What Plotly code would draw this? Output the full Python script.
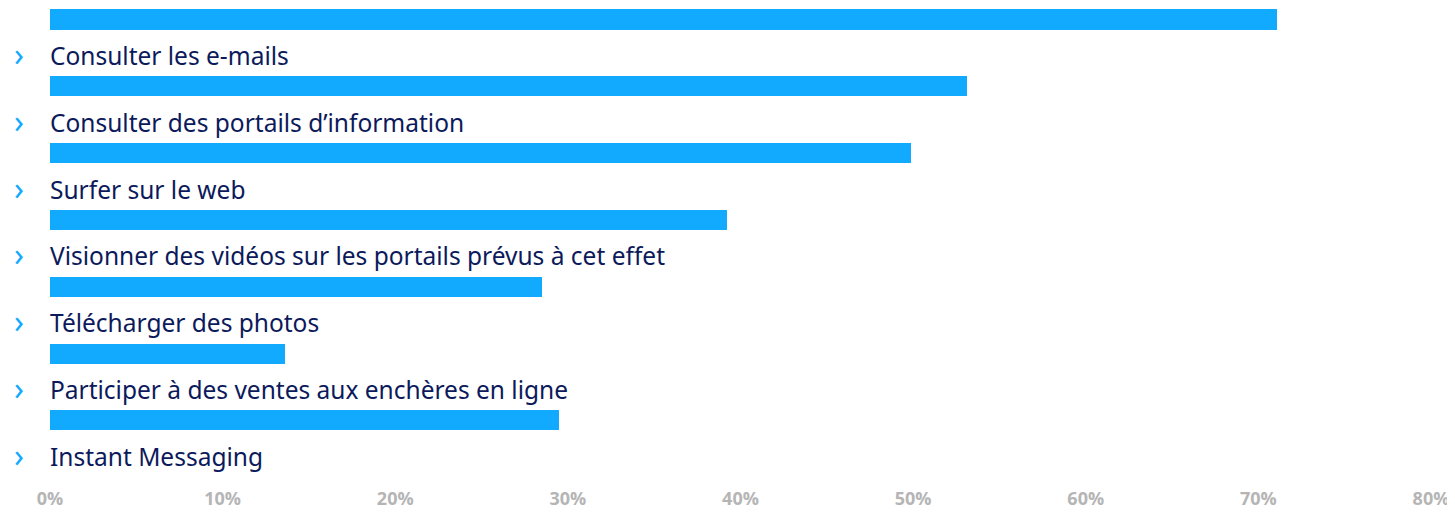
import plotly.graph_objects as go

categories = [
    "Consulter les e-mails",
    "Consulter des portails d’information",
    "Surfer sur le web",
    "Visionner des vidéos sur les portails prévus à cet effet",
    "Télécharger des photos",
    "Participer à des ventes aux enchères en ligne",
    "Instant Messaging",
]
values = [71.1, 53.1, 49.9, 39.2, 28.5, 13.6, 29.5]
tick_vals = [0, 10, 20, 30, 40, 50, 60, 70, 80]
tick_text = [f"{v}%" for v in tick_vals]

BAR_COLOR = "#12aaff"
TEXT_COLOR = "#0c1a5b"
TICK_COLOR = "#b5b5b5"

pos = list(range(len(categories)))

fig = go.Figure(
    go.Bar(
        x=values,
        y=pos,
        orientation="h",
        width=0.3,
        marker=dict(color=BAR_COLOR, line=dict(width=0)),
        hovertemplate="%{customdata}: %{x}%<extra></extra>",
        customdata=categories,
    )
)

annotations = []
for p, c in zip(pos, categories):
    annotations.append(dict(
        x=0, y=p, xref="x", yref="y", text=c, showarrow=False,
        xanchor="left", yanchor="middle", yshift=-36, xshift=-2,
        font=dict(family="Noto Sans", size=24.5, color=TEXT_COLOR),
    ))
    annotations.append(dict(
        x=0, y=p, xref="x", yref="y", text="›", showarrow=False,
        xanchor="center", yanchor="middle", yshift=-34, xshift=-31,
        font=dict(family="Noto Sans", size=32, color=BAR_COLOR),
    ))

# the page body adds an 8px offset, so the figure is sized to the visible area
fig.update_layout(
    width=1447, height=504,
    margin=dict(l=42, r=24, t=0, b=26, autoexpand=False),
    paper_bgcolor="white", plot_bgcolor="white",
    showlegend=False,
    bargap=0,
    annotations=annotations,
    xaxis=dict(
        range=[0, 80], tickvals=tick_vals, ticktext=tick_text,
        showgrid=False, zeroline=False, showline=False, ticks="",
        tickfont=dict(family="Open Sans", size=18, color=TICK_COLOR, weight="bold"),
        fixedrange=True,
    ),
    yaxis=dict(
        range=[6.983, -0.172], showticklabels=False, showgrid=False,
        zeroline=False, showline=False, ticks="", fixedrange=True,
    ),
)

fig.write_html("out.html")
